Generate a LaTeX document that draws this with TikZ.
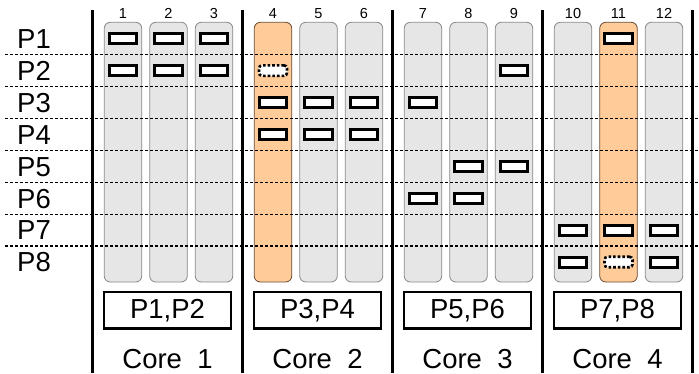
\documentclass[tikz,border=0pt]{standalone}
\usepackage{fontspec}
\setmainfont{Liberation Sans}
\definecolor{colgrey}{HTML}{E6E6E6}
\definecolor{colgreyedge}{HTML}{888888}
\definecolor{colorange}{HTML}{FFCC99}
\definecolor{colorangeedge}{HTML}{6B4A33}
\begin{document}
\begin{tikzpicture}[x=1pt,y=-1pt,
  colbox/.style={draw=colgreyedge,fill=colgrey,line width=0.8pt,rounded corners=6pt,minimum width=37.5pt,minimum height=259.7pt,inner sep=0pt},
  hotbox/.style={colbox,draw=colorangeedge,fill=colorange},
  task/.style={draw=black,fill=white,line width=3pt,minimum width=27.5pt,minimum height=10pt,inner sep=0pt},
  ghost/.style={draw=black,fill=white,line width=2.6pt,dotted,rounded corners=3pt,minimum width=28pt,minimum height=10.5pt,inner sep=0pt},
  sep/.style={line width=2.6pt},
  rowline/.style={line width=1.2pt,dash pattern=on 3pt off 2pt},
  plabel/.style={font=\fontsize{27.5}{30}\selectfont,anchor=base west,inner sep=0pt},
  num/.style={font=\fontsize{14.5}{16}\selectfont,anchor=base,inner sep=0pt},
  setbox/.style={draw=black,line width=2.2pt,minimum width=127pt,minimum height=36.5pt,inner sep=0pt,font=\fontsize{27.5}{30}\selectfont},
  corelabel/.style={font=\fontsize{27.5}{30}\selectfont,anchor=base,inner sep=0pt}]
\useasboundingbox (0,0) rectangle (699,373);
% columns
\foreach \k in {0,1,2,3}{
  \foreach \j in {0,1,2}{
    \pgfmathtruncatemacro{\c}{3*\k+\j+1}
    \pgfmathsetmacro{\cx}{123+150*\k+45.5*\j}
    \ifnum\c=4
      \node[hotbox] (col\c) at (\cx,152.15) {};
    \else\ifnum\c=11
      \node[hotbox] (col\c) at (\cx,152.15) {};
    \else
      \node[colbox] (col\c) at (\cx,152.15) {};
    \fi\fi
    \node[num] (num\c) at (\cx,18.5) {\c};
  }
}
% row lines and labels
\foreach \r in {1,...,8}{
  \pgfmathsetmacro{\ry}{38.7+31.9*(\r-1)}
  \node[plabel] (lab\r) at (17,\ry+9.8) {P\r};
}
\foreach \r in {1,...,7}{
  \pgfmathsetmacro{\ry}{38.7+31.9*(\r-1)+15.95}
  \coordinate (ls\r) at (5,\ry);
  \coordinate (le\r) at (699,\ry);
  \draw[rowline] (ls\r) -- (le\r);
}
% separators
\foreach \k in {0,...,4}{
  \coordinate (st\k) at (92.5+150*\k,10);
  \coordinate (sb\k) at (92.5+150*\k,373);
  \draw[sep] (st\k) -- (sb\k);
}
% tasks: (row, column)
\foreach \r/\c in {1/1,1/2,1/3,1/11,2/1,2/2,2/3,2/9,3/4,3/5,3/6,3/7,4/4,4/5,4/6,5/8,5/9,6/7,6/8,7/10,7/11,7/12,8/10,8/12}{
  \pgfmathsetmacro{\ry}{38.7+31.9*(\r-1)}
  \node[task] (t\r-\c) at (col\c.center |- 0,\ry) {};
}
\node[ghost] (g2-4) at (col4.center |- 0,70.6) {};
\node[ghost] (g8-11) at (col11.center |- 0,262) {};
% core boxes and labels
\node[setbox] (set1) at (167.5,310.2) {P1,P2};
\node[setbox] (set2) at (317.5,310.2) {P3,P4};
\node[setbox] (set3) at (467.5,310.2) {P5,P6};
\node[setbox] (set4) at (617.5,310.2) {P7,P8};
\node[corelabel] (core1) at (167.5,368) {Core\ \ 1};
\node[corelabel] (core2) at (317.5,368) {Core\ \ 2};
\node[corelabel] (core3) at (467.5,368) {Core\ \ 3};
\node[corelabel] (core4) at (617.5,368) {Core\ \ 4};
\end{tikzpicture}
\end{document}
